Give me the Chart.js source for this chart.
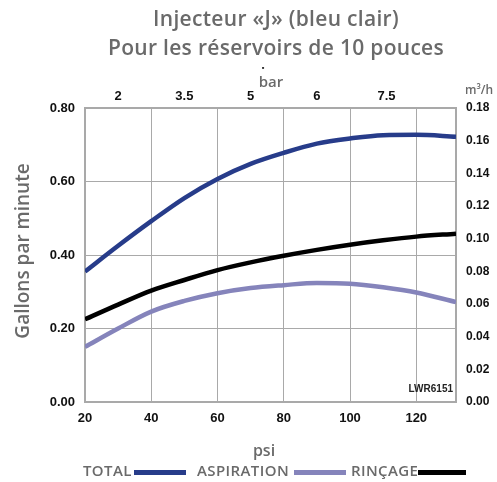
<!DOCTYPE html>
<html>
<head>
<meta charset="utf-8">
<script src="https://cdn.jsdelivr.net/npm/chart.js@4.4.0/dist/chart.umd.min.js"></script>
<style>
  html, body { margin: 0; padding: 0; background: #ffffff; }
  #wrap { width: 497px; height: 482px; position: relative; }
</style>
</head>
<body>
<div id="wrap"><canvas id="c" width="497" height="482"></canvas></div>
<script>
// ---- data ----
const psi = [20, 30, 40, 50, 60, 70, 80, 90, 100, 110, 120, 132];
const totalGpm = [0.355, 0.425, 0.492, 0.555, 0.607, 0.648, 0.678, 0.703, 0.717, 0.726, 0.727, 0.722];
const aspirationGpm = [0.150, 0.200, 0.246, 0.275, 0.296, 0.310, 0.318, 0.324, 0.322, 0.312, 0.298, 0.272];
const rincageGpm = [0.225, 0.265, 0.303, 0.332, 0.359, 0.380, 0.398, 0.414, 0.428, 0.440, 0.450, 0.458];

const psiTicks = [20, 40, 60, 80, 100, 120];
const gpmTicks = [0, 0.2, 0.4, 0.6, 0.8];
const m3hTicks = [0, 0.02, 0.04, 0.06, 0.08, 0.10, 0.12, 0.14, 0.16, 0.18];
const barTickLabels = ['2', '3.5', '5', '6', '7.5'];
const barTickPsi = [30, 50, 70, 90, 111];

const titleLines = ['Injecteur «J» (bleu clair)', 'Pour les réservoirs de 10 pouces'];
const seriesNames = ['TOTAL', 'ASPIRATION', 'RINÇAGE'];
const seriesColors = ['#273c8a', '#8584bb', '#000000'];

const GRID = '#a9a9a9';
const TXT = '#6a6a6a';
const TICK = '#111111';
const tickFont = { family: 'Liberation Sans, Arial, sans-serif', size: 13, weight: 'bold' };

function pts(ys) { return psi.map((x, i) => ({ x: x, y: ys[i] })); }

const extraText = {
  id: 'extraText',
  afterDraw(chart) {
    const ctx = chart.ctx;
    ctx.save();
    ctx.fillStyle = TXT;
    ctx.textAlign = 'center';
    ctx.textBaseline = 'middle';
    if ('letterSpacing' in ctx) ctx.letterSpacing = '0.3px';
    ctx.font = '600 21px "Open Sans", sans-serif';
    ctx.fillText(titleLines[0], 276, 20);
    ctx.fillText(titleLines[1], 276, 49);
    if ('letterSpacing' in ctx) ctx.letterSpacing = '0px';

    // bar label
    ctx.font = '600 15px "Open Sans", sans-serif';
    ctx.fillText('bar', 271, 83);
    ctx.fillStyle = '#333';
    ctx.fillText('·', 263, 69);
    ctx.fillStyle = TXT;
    // m3/h
    ctx.font = '600 12px "Open Sans", sans-serif';
    ctx.fillText('m³/h', 479, 91);
    // psi
    ctx.font = '600 16px "Open Sans", sans-serif';
    ctx.fillText('psi', 264, 451);

    // y title
    ctx.save();
    ctx.translate(24, 251);
    ctx.rotate(-Math.PI / 2);
    ctx.font = '600 19px "Open Sans", sans-serif';
    ctx.fillText('Gallons par minute', 0, 0);
    ctx.restore();

    // LWR6151
    ctx.fillStyle = '#222';
    ctx.font = 'bold 10px "Liberation Sans", Arial, sans-serif';
    ctx.textAlign = 'right';
    ctx.fillText('LWR6151', 453, 389);

    // legend
    ctx.textAlign = 'left';
    ctx.font = '600 15px "Open Sans", sans-serif';
    if ('letterSpacing' in ctx) ctx.letterSpacing = '0.4px';
    const textX = [83, 197, 351];
    const lineX = [[134, 186], [294, 346], [418, 466]];
    for (let i = 0; i < seriesNames.length; i++) {
      ctx.fillStyle = TXT;
      ctx.fillText(seriesNames[i], textX[i], 472);
      ctx.fillStyle = seriesColors[i];
      ctx.fillRect(lineX[i][0], 470, lineX[i][1] - lineX[i][0], 5);
    }
    ctx.restore();
  }
};

new Chart(document.getElementById('c'), {
  type: 'line',
  data: {
    datasets: [
      { label: seriesNames[0], data: pts(totalGpm), borderColor: seriesColors[0], borderWidth: 4.5, pointRadius: 0, cubicInterpolationMode: 'monotone', fill: false, xAxisID: 'x', yAxisID: 'y' },
      { label: seriesNames[1], data: pts(aspirationGpm), borderColor: seriesColors[1], borderWidth: 4.5, pointRadius: 0, cubicInterpolationMode: 'monotone', fill: false, xAxisID: 'x', yAxisID: 'y' },
      { label: seriesNames[2], data: pts(rincageGpm), borderColor: seriesColors[2], borderWidth: 4.5, pointRadius: 0, cubicInterpolationMode: 'monotone', fill: false, xAxisID: 'x', yAxisID: 'y' }
    ]
  },
  options: {
    responsive: false,
    devicePixelRatio: 1,
    animation: false,
    layout: { padding: 0 },
    plugins: { legend: { display: false }, title: { display: false }, tooltip: { enabled: false } },
    scales: {
      x: {
        type: 'linear', position: 'bottom', min: 20, max: 132,
        afterBuildTicks: s => { s.ticks = psiTicks.map(v => ({ value: v })); },
        afterFit: s => { s.height = 80; },
        grid: { color: GRID, lineWidth: 1, drawTicks: false },
        border: { color: GRID, width: 2 },
        ticks: { padding: 9, color: TICK, font: tickFont, maxRotation: 0, autoSkip: false }
      },
      x2: {
        type: 'linear', position: 'top', min: 20, max: 132,
        afterBuildTicks: s => { s.ticks = barTickPsi.map(v => ({ value: v })); },
        afterFit: s => { s.height = 108; },
        grid: { display: false, drawTicks: false },
        border: { display: true, color: GRID, width: 2 },
        ticks: { padding: 4, color: TICK, font: tickFont, maxRotation: 0, autoSkip: false,
                 callback: (v, i) => barTickLabels[i] }
      },
      y: {
        type: 'linear', position: 'left', min: 0, max: 0.8,
        afterBuildTicks: s => { s.ticks = gpmTicks.map(v => ({ value: v })); },
        afterFit: s => { s.width = 85; },
        grid: { color: GRID, lineWidth: 1, drawTicks: false },
        border: { color: GRID, width: 2 },
        ticks: { padding: 10, color: TICK, font: tickFont, callback: v => v.toFixed(2) }
      },
      y2: {
        type: 'linear', position: 'right', min: 0, max: 0.18,
        afterBuildTicks: s => { s.ticks = m3hTicks.map(v => ({ value: v })); },
        afterFit: s => { s.width = 41; },
        grid: { display: false, drawTicks: false },
        border: { display: true, color: GRID, width: 2 },
        ticks: { padding: 10, color: TICK, font: { family: 'Liberation Sans, Arial, sans-serif', size: 12, weight: 'bold' }, callback: v => v.toFixed(2) }
      }
    }
  },
  plugins: [extraText]
});
</script>
</body>
</html>
